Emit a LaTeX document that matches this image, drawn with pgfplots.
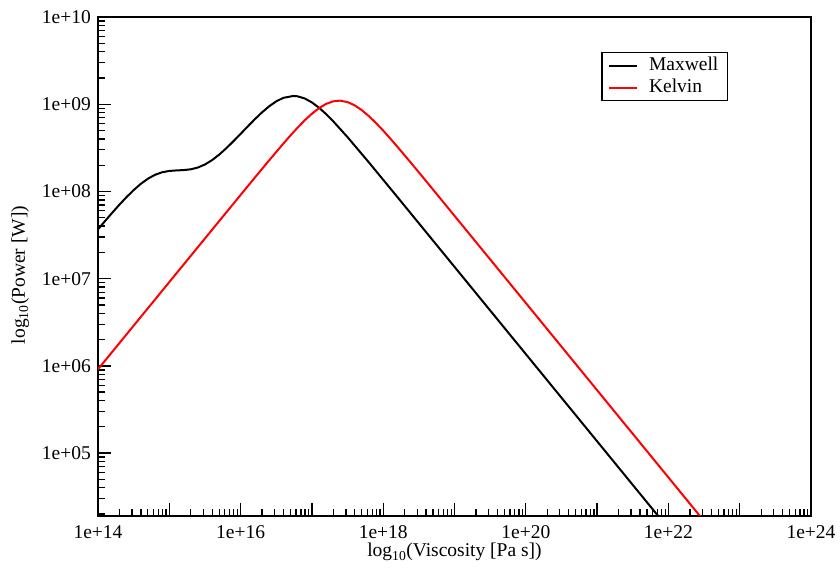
\documentclass[border=0pt]{standalone}
\usepackage{fontspec}
\setmainfont{Liberation Serif}
\usepackage{pgfplots}
\pgfplotsset{compat=1.18}
\begin{document}
\begin{tikzpicture}
\begin{axis}[
  name=ax,
  scale only axis,
  width=713pt, height=499pt,
  xmode=log, ymode=log,
  xmin=1e14, xmax=1e24,
  ymin=1.9e4, ymax=1e10,
  tick pos=left,
  tick align=inside,
  xtick={1e14,1e15,1e16,1e17,1e18,1e19,1e20,1e21,1e22,1e23,1e24},
  xticklabels={1e+14,,1e+16,,1e+18,,1e+20,,1e+22,,1e+24},
  minor xtick={2e14,3e14,4e14,5e14,6e14,7e14,8e14,9e14,
    2e15,3e15,4e15,5e15,6e15,7e15,8e15,9e15,
    2e16,3e16,4e16,5e16,6e16,7e16,8e16,9e16,
    2e17,3e17,4e17,5e17,6e17,7e17,8e17,9e17,
    2e18,3e18,4e18,5e18,6e18,7e18,8e18,9e18,
    2e19,3e19,4e19,5e19,6e19,7e19,8e19,9e19,
    2e20,3e20,4e20,5e20,6e20,7e20,8e20,9e20,
    2e21,3e21,4e21,5e21,6e21,7e21,8e21,9e21,
    2e22,3e22,4e22,5e22,6e22,7e22,8e22,9e22,
    2e23,3e23,4e23,5e23,6e23,7e23,8e23,9e23},
  ytick={1e5,1e6,1e7,1e8,1e9,1e10},
  yticklabels={1e+05,1e+06,1e+07,1e+08,1e+09,1e+10},
  minor ytick={2e4,3e4,4e4,5e4,6e4,7e4,8e4,9e4,
    2e5,3e5,4e5,5e5,6e5,7e5,8e5,9e5,
    2e6,3e6,4e6,5e6,6e6,7e6,8e6,9e6,
    2e7,3e7,4e7,5e7,6e7,7e7,8e7,9e7,
    2e8,3e8,4e8,5e8,6e8,7e8,8e8,9e8,
    2e9,3e9,4e9,5e9,6e9,7e9,8e9,9e9},
  major tick length=13pt,
  minor tick length=7pt,
  every tick/.style={black, line width=1.3pt},
  axis line style={line width=2pt},
  every tick label/.append style={font=\fontsize{19.5}{23}\selectfont, inner sep=0pt},
  xticklabel style={yshift=-9pt},
  yticklabel style={xshift=-7pt},
  xlabel={log\textsubscript{10}(Viscosity [Pa s])},
  ylabel={log\textsubscript{10}(Power [W])},
  label style={font=\fontsize{19.5}{23}\selectfont},
  xlabel style={at={(axis description cs:0.5,-0.082)}, anchor=base},
  ylabel style={at={(axis description cs:-0.1024,0.483)}, anchor=base},
  legend style={at={(0.8836,0.9299)}, anchor=north east, draw=black, line width=1.3pt,
    font=\fontsize{19.5}{23}\selectfont, inner xsep=6pt, inner ysep=2pt,
    row sep=0pt, column sep=8pt,
    nodes={inner xsep=3pt, inner ysep=1.5pt, text height=14pt, text depth=5pt}},
  legend cell align=left,
  legend image code/.code={\draw[#1, line width=2pt] (0pt,0pt) -- (28pt,0pt);},
]
\addplot[black, line width=2pt, line join=round] coordinates {
(1e14,3.673e7) (1.2589e14,4.588e7) (1.5849e14,5.704e7) (1.9953e14,7.044e7)
(2.5119e14,8.608e7) (3.1623e14,1.0362e8) (3.9811e14,1.2211e8) (5.0119e14,1.3995e8)
(6.3096e14,1.551e8) (7.9433e14,1.6584e8) (1e15,1.7174e8) (1.2589e15,1.7412e8)
(1.5849e15,1.7561e8) (1.9953e15,1.7927e8) (2.5119e15,1.8786e8) (3.1623e15,2.0367e8)
(3.9811e15,2.2861e8) (5.0119e15,2.6451e8) (6.3096e15,3.1325e8) (7.9433e15,3.7688e8)
(1e16,4.5735e8) (1.2589e16,5.5615e8) (1.5849e16,6.733e8) (1.9953e16,8.059e8)
(2.5119e16,9.459e8) (3.1623e16,1.0786e9) (3.9811e16,1.1834e9) (5.4954e16,1.2438e9)
(6.3096e16,1.2315e9) (7.9433e16,1.163e9) (1e17,1.0488e9) (1.2589e17,9.109e8)
(1.5849e17,7.689e8) (1.9953e17,6.359e8) (3.1623e17,4.190e8) (6.3096e17,2.147e8)
(1.5849e18,8.602e7) (1e19,1.3649e7) (1e22,1.3649e4)
};
\addlegendentry{Maxwell}
\addplot[red, line width=2pt, line join=round] coordinates {
(1e14,9.141e5) (1e15,9.141e6) (1e16,9.12e7) (1.5849e16,1.442e8) (2.5119e16,2.270e8)
(3.9811e16,3.540e8) (5.0119e16,4.391e8) (6.3096e16,5.395e8) (7.9433e16,6.543e8)
(1e17,7.780e8) (1.2589e17,9.016e8)
(1.5849e17,1.0093e9) (1.9953e17,1.0789e9) (2.3988e17,1.0965e9) (2.5119e17,1.0955e9)
(3.1623e17,1.0568e9) (3.9811e17,9.705e8) (5.0119e17,8.542e8) (6.3096e17,7.278e8)
(7.9433e17,6.070e8) (1e18,4.977e8) (1.2589e18,4.032e8) (1.5849e18,3.243e8)
(1.9953e18,2.598e8) (2.5119e18,2.075e8) (3.9811e18,1.317e8) (6.3096e18,8.318e7)
(3.1623e19,1.663e7) (3.9811e22,1.321e4)
};
\addlegendentry{Kelvin}
\end{axis}
\pgfresetboundingbox
\path[use as bounding box] ([shift={(-98pt,-53pt)}]ax.south west) rectangle ([shift={(29pt,17pt)}]ax.north east);
\end{tikzpicture}
\end{document}
